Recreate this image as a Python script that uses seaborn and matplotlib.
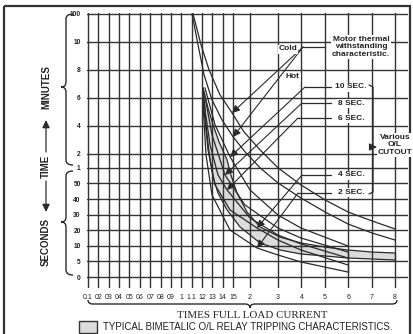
import numpy as np
import pandas as pd
import matplotlib
matplotlib.use("Agg")
import matplotlib.pyplot as plt
import matplotlib.transforms as mtransforms
from matplotlib.path import Path
from matplotlib.patches import PathPatch, Rectangle, FancyArrowPatch
from matplotlib.lines import Line2D
import seaborn as sns

# ---------------- data ----------------
x_ticks = [0.1, 0.2, 0.3, 0.4, 0.5, 0.6, 0.7, 0.8, 0.9, 1.0, 1.1, 1.2, 1.3, 1.4, 1.5,
           2, 3, 4, 5, 6, 7, 8]
x_labels = ["0.1", "02", "03", "04", "05", "06", "07", "08", "09", "1", "1.1", "12",
            "13", "14", "15", "2", "3", "4", "5", "6", "7", "8"]
y_ticks = [0, 5, 10, 20, 30, 40, 50, 60, 120, 240, 360, 480, 600, 6000]   # seconds
y_labels = ["0", "5", "10", "20", "30", "40", "50", "1", "2", "4", "6", "8", "10", "100"]

cold_flc = [1.1135, 1.191, 1.268, 1.374, 1.49, 1.82, 2.357, 3.0, 3.983, 5.01, 5.99, 7.02, 8.0]
cold_sec = [6000, 587, 480, 372.9, 295.7, 214.3, 137.1, 60, 49.0, 39.4, 31.7, 25.9, 20.8]
hot_flc = [1.104, 1.162, 1.22, 1.297, 1.393, 1.5, 1.853, 2.357, 3.0, 3.983, 5.01, 5.99, 7.02, 8.0]
hot_sec = [6000, 587, 458.6, 351.4, 265.7, 192.9, 128.6, 60, 50.3, 40.6, 31.7, 24.0, 18.2, 13.7]
band_up_flc = [1.21, 1.258, 1.307, 1.365, 1.442, 1.48, 1.618, 1.912, 2.357, 3.085, 3.983,
               5.01, 5.99, 7.02, 8.0]
band_up_sec = [402.9, 317.1, 244.3, 171.4, 94.3, 55.4, 43.8, 31.7, 22.1, 15.6, 11.8,
               9.6, 8.65, 8.0, 7.69]
band_lo_flc = [1.21, 1.229, 1.239, 1.258, 1.278, 1.307, 1.355, 1.442, 1.706, 2.357, 3.085,
               3.983, 5.01, 5.99, 7.02, 8.0]
band_lo_sec = [402.9, 317.1, 244.3, 167.1, 94.3, 54.1, 43.8, 33.0, 22.1, 11.8, 8.65,
               7.37, 6.73, 6.09, 5.77, 5.45]
ol10_flc = [1.229, 1.326, 1.471, 2.0, 3.0, 3.983, 5.99]
ol10_sec = [402.9, 244.3, 107.1, 45.8, 29.7, 21.4, 9.94]
ol8_flc = [1.22, 1.297, 1.422, 1.85, 3.0, 3.983, 5.99]
ol8_sec = [385.7, 201.4, 55.4, 36.2, 21.4, 15.0, 8.0]
ol6_flc = [1.21, 1.278, 1.355, 1.442, 2.0, 3.0, 3.983, 5.99]
ol6_sec = [368.6, 158.6, 55.4, 45.8, 27.8, 16.9, 11.2, 6.09]
ol4_flc = [1.21, 1.258, 1.326, 1.471, 2.25, 3.0, 3.983, 5.99]
ol4_sec = [351.4, 137.1, 49.0, 33.0, 21.4, 13.7, 8.65, 3.85]
ol2_flc = [1.21, 1.239, 1.297, 1.471, 2.25, 3.0, 3.983, 5.99]
ol2_sec = [334.3, 115.7, 42.6, 20.1, 9.3, 7.05, 4.81, 1.6]

curves = {"Cold": (cold_flc, cold_sec), "Hot": (hot_flc, hot_sec),
          "band_up": (band_up_flc, band_up_sec), "band_lo": (band_lo_flc, band_lo_sec),
          "10 SEC.": (ol10_flc, ol10_sec), "8 SEC.": (ol8_flc, ol8_sec),
          "6 SEC.": (ol6_flc, ol6_sec), "4 SEC.": (ol4_flc, ol4_sec),
          "2 SEC.": (ol2_flc, ol2_sec)}
df = pd.concat([pd.DataFrame({"curve": k, "flc": v[0], "sec": v[1]}) for k, v in curves.items()],
               ignore_index=True)

# ---------------- layout / scales ----------------
W, H = 414, 334
XP = [88 + 10.36 * i for i in range(15)] + [250] + [278 + 23.4 * k for k in range(6)]
YP = [0, 15.6, 31.2, 46.8, 62.4, 78, 93.6, 109.2, 123.2, 151.2, 179.2, 207.2, 235.2, 263.2]
XV_e = np.array([0.0] + x_ticks + [9.0])
XP_e = np.array([XP[0] - 10.36] + XP + [XP[-1] + 23.4])
YV_e = np.array([-10.0] + y_ticks + [11400.0])
YP_e = np.array([-31.2] + YP + [YP[-1] + 28])

def xf(v): return np.interp(v, XV_e, XP_e)
def xi(p): return np.interp(p, XP_e, XV_e)
def yf(v): return np.interp(v, YV_e, YP_e)
def yi(p): return np.interp(p, YP_e, YV_e)

sns.set_theme(style="white")
plt.rcParams["font.family"] = ["Liberation Sans", "DejaVu Sans"]

fig = plt.figure(figsize=(W / 100, H / 100), dpi=100)
fig.patch.set_facecolor("white")
AX_L, AX_R, AX_T, AX_B = 87, 408, 13, 288
ax = fig.add_axes([AX_L / W, 1 - AX_B / H, (AX_R - AX_L) / W, (AX_B - AX_T) / H])
ax.set_facecolor("white")

INK = "#2a2a2a"
sns.lineplot(data=df, x="flc", y="sec", units="curve", estimator=None, sort=False,
             color=INK, lw=0.9, ax=ax, legend=False)
poly_x = band_up_flc + band_lo_flc[::-1]
poly_y = band_up_sec + band_lo_sec[::-1]
ax.fill(poly_x, poly_y, color="#dcdcdc", zorder=0.5, lw=0)
ax.plot([band_up_flc[-1], band_lo_flc[-1]], [band_up_sec[-1], band_lo_sec[-1]], color=INK, lw=0.9)
ax.plot([6, 6], [ol8_sec[-1], ol2_sec[-1]], color=INK, lw=0.9)

ax.set_xscale("function", functions=(xf, xi))
ax.set_yscale("function", functions=(yf, yi))
ax.set_xlim(xi(AX_L), xi(AX_R))
ax.set_ylim(yi(-(AX_B - 277)), yi(277 - AX_T))
ax.set_xticks(x_ticks)
ax.set_xticklabels(x_labels)
ax.set_yticks(y_ticks)
ax.set_yticklabels(y_labels)
ax.minorticks_off()
ax.grid(True, color="#333333", lw=1.0)
ax.set_axisbelow(True)
for s in ax.spines.values():
    s.set_visible(False)
ax.tick_params(length=0)
ax.tick_params(axis="x", pad=4.5)
ax.tick_params(axis="y", pad=4.5)
for t in ax.get_xticklabels():
    t.set_fontsize(5)
    t.set_family(["Liberation Sans Narrow", "Liberation Sans", "DejaVu Sans"])
    t.set_color("#222")
for t in ax.get_yticklabels():
    t.set_fontsize(4.8)
    t.set_fontweight("bold")
    t.set_color("#222")
ax.set_xlabel("")
ax.set_ylabel("")

# pixel transform (x right, y down)
T = mtransforms.Affine2D().scale(1 / 100, -1 / 100).translate(0, H / 100) + fig.dpi_scale_trans

def add_line(pts, lw=0.9, color=INK):
    xs, ys = zip(*pts)
    fig.add_artist(Line2D(xs, ys, transform=T, lw=lw, color=color))

def add_arrow(p0, p1, lw=0.8):
    fig.add_artist(FancyArrowPatch(p0, p1, transform=T, arrowstyle="-|>,head_length=0.45,head_width=0.22",
                                   mutation_scale=10, lw=lw, color=INK, shrinkA=0, shrinkB=0))

def vbrace(xt, xl, xm, y0, y1, ym, r=5):
    verts = [(xt, y0), (xl, y0), (xl, y0 + r), (xl, ym - r), (xl, ym), (xm, ym),
             (xl, ym), (xl, ym + r), (xl, y1 - r), (xl, y1), (xt, y1)]
    codes = [Path.MOVETO, Path.CURVE3, Path.CURVE3, Path.LINETO, Path.CURVE3, Path.CURVE3,
             Path.CURVE3, Path.CURVE3, Path.LINETO, Path.CURVE3, Path.CURVE3]
    fig.add_artist(PathPatch(Path(verts, codes), transform=T, fill=False, lw=1.0, ec=INK))

def hbrace(x0, x1, xm, yt, yl, ym, r=5):
    verts = [(x0, yt), (x0, yl), (x0 + r, yl), (xm - r, yl), (xm, yl), (xm, ym),
             (xm, yl), (xm + r, yl), (x1 - r, yl), (x1, yl), (x1, yt)]
    codes = [Path.MOVETO, Path.CURVE3, Path.CURVE3, Path.LINETO, Path.CURVE3, Path.CURVE3,
             Path.CURVE3, Path.CURVE3, Path.LINETO, Path.CURVE3, Path.CURVE3]
    fig.add_artist(PathPatch(Path(verts, codes), transform=T, fill=False, lw=1.0, ec=INK))

# outer frame
fig.add_artist(Rectangle((4, 6), 406, 340, transform=T, fill=False, lw=1.6, ec="#333333"))

# braces
vbrace(73, 66, 61, 14, 165, 87)
vbrace(73, 66, 61, 171, 275, 222)
hbrace(88, 397, 250, 300, 304, 308)

# y-axis title pieces
bold = dict(fontweight="bold", color="#222", rotation=90, ha="center", va="center", fontsize=7)
fig.text(46 / W, 1 - 87 / H, "MINUTES", **bold)
fig.text(46 / W, 1 - 166 / H, "TIME", **bold)
fig.text(46 / W, 1 - 242 / H, "SECONDS", **bold)
add_arrow((46, 152), (46, 120), lw=0.9)
add_arrow((46, 181), (46, 212), lw=0.9)

# x-axis title and legend
fig.text(252 / W, 1 - 315 / H, "TIMES FULL LOAD CURRENT", ha="center", va="center",
         fontsize=7.9, family=["Liberation Serif", "DejaVu Serif"], color="#222")
fig.add_artist(Rectangle((79, 321), 18, 12, transform=T, fc="#dcdcdc", ec="#333333", lw=1.0))
fig.text(103 / W, 1 - 327 / H, "TYPICAL BIMETALIC O/L RELAY TRIPPING CHARACTERISTICS.",
         ha="left", va="center", fontsize=7, color="#222")

# annotations
box = dict(boxstyle="square,pad=0.12", fc="white", ec="none")
lab = dict(fontweight="bold", color="#222", fontsize=6, ha="center", va="center", bbox=box)
fig.text(361 / W, 1 - 47 / H, "Motor thermal\nwithstanding\ncharacteristic.", linespacing=1.05, **lab)
fig.text(288 / W, 1 - 49 / H, "Cold", **lab)
fig.text(293 / W, 1 - 77 / H, "Hot", **lab)
sec_labels = [("10 SEC.", 87, 305, (230, 157)), ("8 SEC.", 103, 302, (225, 175)),
              ("6 SEC.", 118, 298, (227, 190)), ("4 SEC.", 175, 302, (257, 228)),
              ("2 SEC.", 193, 298, (257, 248))]
for txt, yy, xk, tip in sec_labels:
    fig.text(351 / W, 1 - yy / H, txt, **lab)
    add_line([(331, yy), (xk, yy)])
    add_arrow((xk, yy), tip)
add_line([(324, 47), (303, 47)])
add_arrow((303, 47), (232, 113))
add_arrow((303, 47), (233, 137))
# right bracket for O/L cutouts
add_line([(369, 85), (373, 87), (373, 192), (369, 194)])
add_arrow((373, 147), (377, 147), lw=0.8)
fig.text(395 / W, 1 - 145 / H, "Various\nO/L\nCUTOUT", linespacing=1.05, **lab)

fig.savefig("out.png", dpi=100, facecolor="white")
